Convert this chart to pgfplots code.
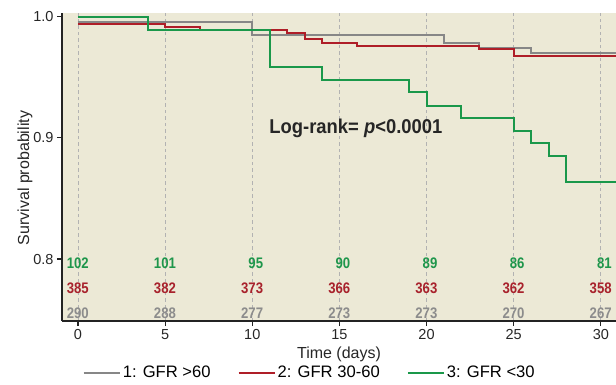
\documentclass[border=0pt]{standalone}
\usepackage{fontspec}
\setmainfont{Liberation Sans}
\newfontfamily\riskfont[FakeStretch=0.86]{Liberation Sans}
\newfontfamily\lrfont[FakeStretch=0.92]{Liberation Sans}
\usepackage{pgfplots}
\pgfplotsset{compat=1.18}
\definecolor{bgc}{RGB}{236,233,214}
\definecolor{cgreen}{RGB}{26,152,74}
\definecolor{cred}{RGB}{175,30,40}
\definecolor{cgray}{RGB}{135,135,135}
\definecolor{tgreen}{RGB}{30,150,75}
\definecolor{tred}{RGB}{168,34,44}
\definecolor{tgray}{RGB}{140,140,140}
\definecolor{axc}{RGB}{35,35,35}
\begin{document}
\begin{tikzpicture}
\begin{axis}[
  scale only axis, width=554pt, height=308pt,
  xmin=-0.918, xmax=30.87, ymin=0.7489, ymax=1.00305,
  axis x line=bottom, axis y line=left,
  axis line style={-, line width=1.6pt, axc},
  axis background/.style={fill=bgc},
  xtick={0,5,10,15,20,25,30},
  ytick={0.8,0.9,1.0}, yticklabels={0.8,0.9,1.0},
  tick align=outside, major tick length=5pt,
  tick style={line width=1.2pt, axc},
  /pgf/number format/assume math mode=true,
  tick label style={font=\fontsize{14.5}{16}\selectfont, text=black!85},
  xmajorgrids,
  major x grid style={line width=0.8pt, black!30, dash pattern=on 3.5pt off 3pt},
  xlabel={Time (days)}, ylabel={Survival probability},
  label style={font=\fontsize{16}{18}\selectfont, text=black!85},
  xlabel style={at={(axis description cs:0.5,-0.107)}, anchor=center},
  ylabel style={at={(axis description cs:-0.0668,0.464)}, anchor=center},
  legend columns=3,
  legend style={draw=none, fill=none, inner sep=0pt,
    at={(0.0370,-0.1685)}, anchor=west,
    font=\fontsize{16.6}{18}\selectfont,
    cells={anchor=west, inner sep=2.5pt},
    /tikz/every even column/.append style={column sep=25pt}},
  legend image code/.code={\draw[#1] (0pt,0pt) -- (36pt,0pt);},
  const plot,
]
\addplot[cgray, line width=2.1pt] coordinates {
  (0,0.9955) (10,0.985) (21,0.978) (23,0.974) (26,0.970) (31,0.970)};
\addlegendentry{1: GFR >60}
\addplot[cred, line width=2.1pt] coordinates {
  (0,0.994) (5,0.9918) (7,0.9888) (12,0.9863) (13,0.9814) (14,0.9786)
  (16,0.9758) (23,0.9731) (25,0.9676) (31,0.9676)};
\addlegendentry{2: GFR 30-60}
\addplot[cgreen, line width=2.1pt] coordinates {
  (0,0.9995) (4,0.989) (11,0.9588) (14,0.9478) (19,0.9382) (20,0.9264)
  (22,0.9167) (25,0.906) (26,0.8956) (27,0.8852) (28,0.8635) (31,0.8635)};
\addlegendentry{3: GFR <30}

\addplot[draw=none, mark=none, forget plot, nodes near coords, point meta=explicit symbolic,
  every node near coord/.append style={anchor=east, inner sep=0pt, xshift=11pt, text=tgreen,
    font=\riskfont\bfseries\fontsize{15.3}{17}\selectfont}]
  coordinates {(0,0.7964)[102] (5,0.7964)[101] (10,0.7964)[95] (15,0.7964)[90]
   (20,0.7964)[89] (25,0.7964)[86] (30,0.7964)[81]};
\addplot[draw=none, mark=none, forget plot, nodes near coords, point meta=explicit symbolic,
  every node near coord/.append style={anchor=east, inner sep=0pt, xshift=11pt, text=tred,
    font=\riskfont\bfseries\fontsize{15.3}{17}\selectfont}]
  coordinates {(0,0.7757)[385] (5,0.7757)[382] (10,0.7757)[373] (15,0.7757)[366]
   (20,0.7757)[363] (25,0.7757)[362] (30,0.7757)[358]};
\addplot[draw=none, mark=none, forget plot, nodes near coords, point meta=explicit symbolic,
  every node near coord/.append style={anchor=east, inner sep=0pt, xshift=11pt, text=tgray,
    font=\riskfont\bfseries\fontsize{15.3}{17}\selectfont}]
  coordinates {(0,0.7553)[290] (5,0.7553)[288] (10,0.7553)[277] (15,0.7553)[273]
   (20,0.7553)[273] (25,0.7553)[270] (30,0.7553)[267]};

\node[anchor=base west, inner sep=0pt, text=black!85,
  font=\lrfont\bfseries\fontsize{20}{22}\selectfont]
  at (axis cs:10.975,0.9039) {Log-rank= \textit{p}<0.0001};
\end{axis}
\pgfresetboundingbox
\path (-62pt,-63pt) rectangle (554pt,321pt);
\end{tikzpicture}
\end{document}
